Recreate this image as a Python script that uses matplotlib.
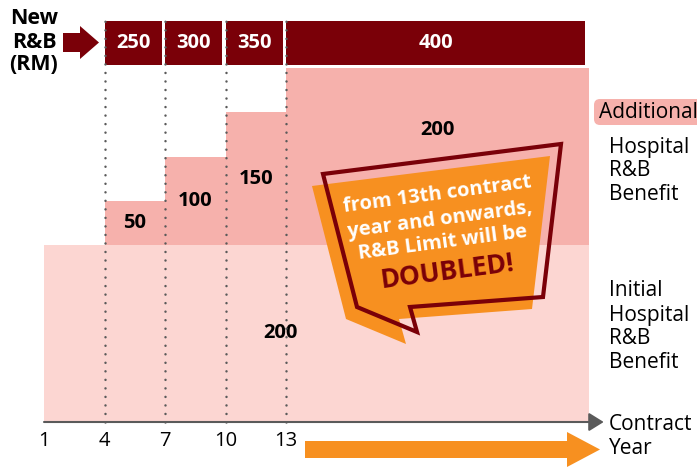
import numpy as np
import matplotlib
matplotlib.use('Agg')
import matplotlib.pyplot as plt
from matplotlib.patches import Polygon, FancyArrowPatch, FancyBboxPatch
from matplotlib.transforms import Affine2D

plt.rcParams['font.family'] = ['Open Sans', 'DejaVu Sans']

# --- data ---
first_year, last_year = 1, 28
initial_benefit = 200
seg_start = [4, 7, 10, 13]
seg_end = [7, 10, 13, 28]
additional = [50, 100, 150, 200]
new_rb = [250, 300, 350, 400]
tick_years = [1, 4, 7, 10, 13]
tick_labels = ['1', '4', '7', '10', '13']

DARK = '#7A0008'
PINK = '#F6B1AC'
LIGHT = '#FCD6D2'
ORANGE = '#F79020'
GREY = '#5A5A5A'

W, H = 697, 467
fig = plt.figure(figsize=(W / 100, H / 100), dpi=100)
ax = fig.add_axes([0, 0, 1, 1])
ax.axis('off')
# years -> pixels: year 1 at 44px, 20.17 px per year; value 0 at 422px, 0.885 px per unit
ax.set_xlim(1 - 44 / 20.17, 1 + (W - 44) / 20.17)
ax.set_ylim(-(H - 422) / 0.885, 422 / 0.885)

# pixel transform (origin top-left) for the decorations
px = Affine2D().scale(1 / W, -1 / H).translate(0, 1) + fig.transFigure

starts = np.array(seg_start)
widths = np.array(seg_end) - starts

# initial benefit
ax.bar(first_year, initial_benefit, width=last_year - first_year, align='edge',
       color=LIGHT, zorder=1)
# additional steps
ax.bar(starts, additional, width=widths, bottom=initial_benefit, align='edge',
       color=PINK, zorder=1)
# new R&B band on top
band_bottom, band_h = 403, 50
ax.bar(starts, band_h, width=widths - 0.17, bottom=band_bottom, align='edge',
       color=DARK, zorder=2)
for s, w, v in zip(starts, widths, new_rb):
    ax.text(s + (w - 0.17) / 2, band_bottom + band_h / 2, str(v), color='white',
            fontsize=14.5, fontweight='bold', ha='center', va='center', zorder=3)

# dotted separators
for s in seg_start:
    ax.plot([s, s], [0, band_bottom + band_h], color=GREY, lw=1.8,
            linestyle=(0, (0.01, 3.4)), dash_capstyle='round', zorder=4)

# value labels
label_y = [225, 250, 275, 330]
for s, w, v, y in zip(starts, widths, additional, label_y):
    ax.text(s + w / 2, y, str(v), fontsize=14.5, fontweight='bold',
            ha='center', va='center', zorder=3)
ax.text(12.7, 100, str(initial_benefit), fontsize=14.5, fontweight='bold',
        ha='center', va='center', zorder=3)

# x axis with arrow
ax.add_patch(FancyArrowPatch((first_year, 0), (28.75, 0),
                             arrowstyle='-|>,head_length=0.45,head_width=0.28',
                             mutation_scale=20, color=GREY, lw=1.5,
                             shrinkA=0, shrinkB=0, zorder=5))
for yr, lab in zip(tick_years, tick_labels):
    ax.text(yr, -22, lab, fontsize=14.5, ha='center', va='center')

ax.text(609, 424, 'Contract', transform=px, fontsize=15, va='center')
ax.text(609, 448, 'Year', transform=px, fontsize=15, va='center')

# orange arrow under the axis
ax.add_patch(Polygon([(305, 441), (567, 441), (567, 432), (600, 449.5),
                      (567, 467), (567, 458), (305, 458)],
                     closed=True, transform=px, color=ORANGE, lw=0))

# "New R&B (RM)" + arrow
for y, t in zip([18, 42, 65], ['New', 'R&B', '(RM)']):
    ax.text(34, y, t, transform=px, fontsize=15.5, fontweight='bold',
            ha='center', va='center')
ax.add_patch(Polygon([(63, 33), (80, 33), (80, 26), (99, 42.5), (80, 59),
                      (80, 52), (63, 52)], closed=True, transform=px,
                     color=DARK, lw=0))

# right-hand legend texts
ax.add_patch(FancyBboxPatch((594, 99), 115, 26, boxstyle='round,pad=0,rounding_size=6',
                            transform=px, color=PINK, lw=0, clip_on=False))
ax.text(599, 112, 'Additional', transform=px, fontsize=15, va='center')
for y, t in zip([147, 171, 195], ['Hospital', 'R&B', 'Benefit']):
    ax.text(609, y, t, transform=px, fontsize=15, va='center')
for y, t in zip([291, 315, 339, 362], ['Initial', 'Hospital', 'R&B', 'Benefit']):
    ax.text(609, y, t, transform=px, fontsize=15, va='center')

# speech bubble
outline = np.array([(323, 174), (561, 144), (543, 297), (410, 307),
                    (417, 332), (357, 307)])
ax.add_patch(Polygon(outline + [-11, 12], closed=True, transform=px,
                     color=ORANGE, lw=0, zorder=6))
ax.add_patch(Polygon(outline, closed=True, transform=px, fill=False,
                     edgecolor=DARK, lw=3, joinstyle='miter', zorder=7))
bubble = [((437, 195), 'from 13th contract'),
          ((440, 220), 'year and onwards,'),
          ((443, 243), 'R&B Limit will be')]
for (x, y), t in bubble:
    ax.text(x, y, t, transform=px, fontsize=14.5, fontweight='bold', color='white',
            ha='center', va='center', rotation=7.5, rotation_mode='anchor', zorder=8)
ax.text(447, 272, 'DOUBLED!', transform=px, fontsize=19, fontweight='bold',
        color=DARK, ha='center', va='center', rotation=7.5,
        rotation_mode='anchor', zorder=8)

fig.savefig('out.png', dpi=100)
